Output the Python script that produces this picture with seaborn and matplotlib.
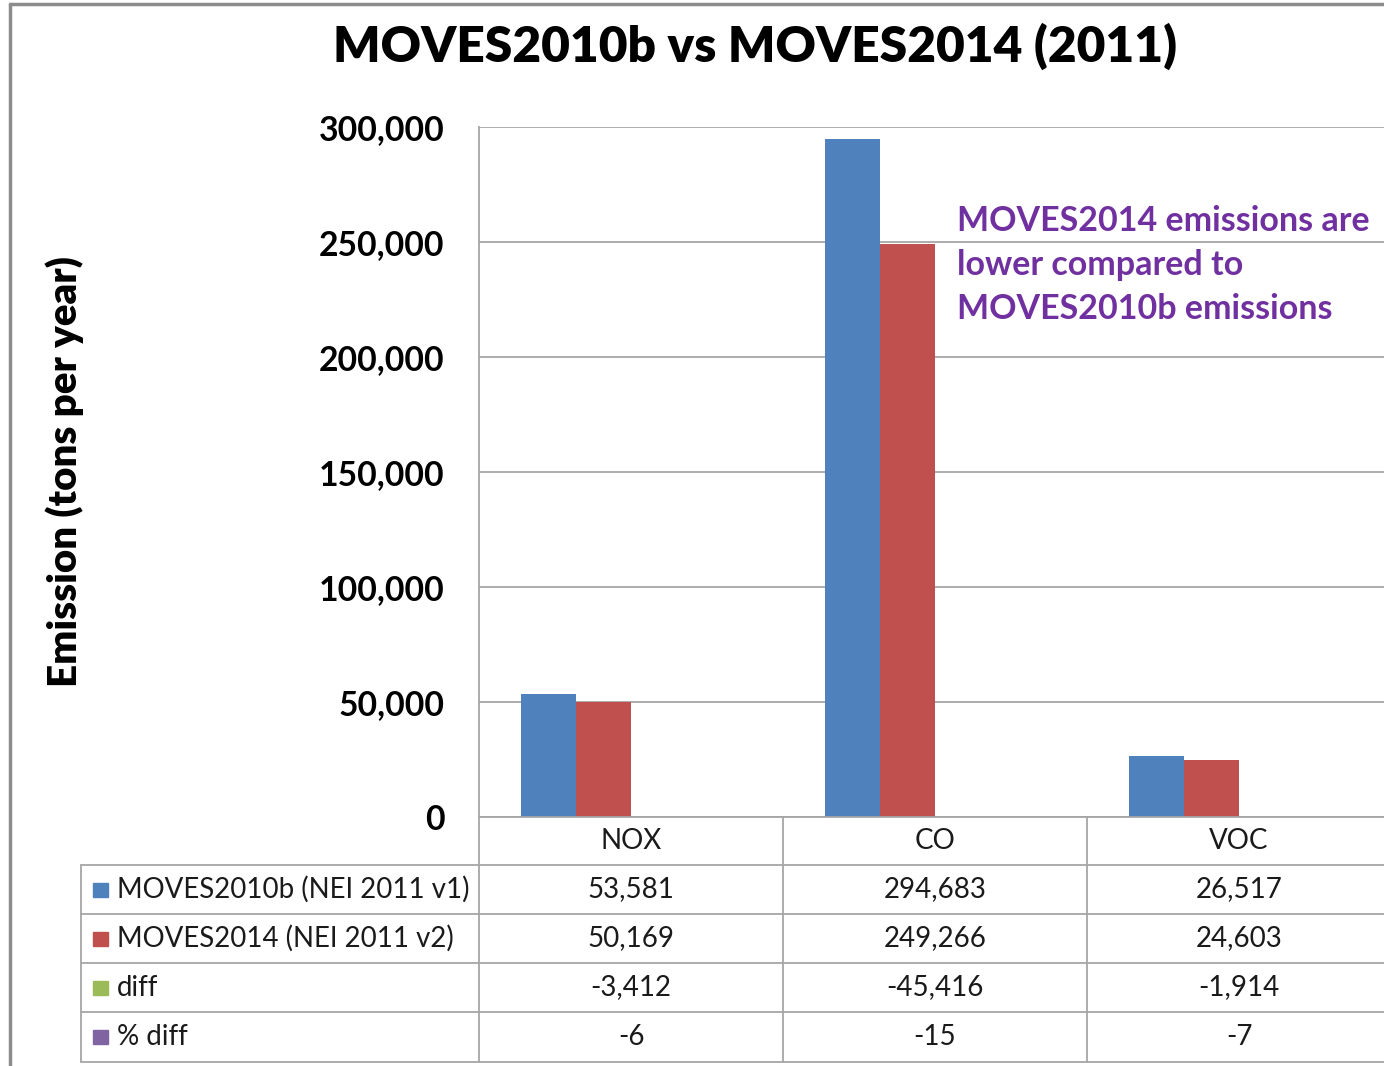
import numpy as np
import pandas as pd
import matplotlib
matplotlib.use("Agg")
import matplotlib.pyplot as plt
import matplotlib.transforms as mtransforms
from matplotlib.patches import Rectangle
import seaborn as sns

pollutants = ["NOX", "CO", "VOC"]
series = ["MOVES2010b (NEI 2011 v1)", "MOVES2014 (NEI 2011 v2)", "diff", "% diff"]
moves2010b = [53581, 294683, 26517]
moves2014 = [50169, 249266, 24603]
diff = [-3412, -45416, -1914]
pct_diff = [-6, -15, -7]
colors = ["#4F81BD", "#C0504D", "#9BBB59", "#8064A2"]

rows = [moves2010b, moves2014, diff, pct_diff]
df = pd.DataFrame({
    "pollutant": np.tile(pollutants, len(series)),
    "series": np.repeat(series, len(pollutants)),
    "value": np.concatenate(rows),
})

sns.set_style("white")
plt.rcParams["font.family"] = ["Lato", "DejaVu Sans"]

W, H = 1384, 1066
fig = plt.figure(figsize=(W / 100, H / 100), dpi=100)

def fx(px):
    return px / W

def fy(py):
    return 1 - py / H

# plot area (extends past right edge like the cropped original)
ax = fig.add_axes([fx(479), fy(817), fx(1391) - fx(479), fy(127) - fy(817)])
sns.barplot(data=df, x="pollutant", y="value", hue="series", order=pollutants,
            hue_order=series, palette=colors, width=0.724, saturation=1,
            linewidth=0, legend=False, ax=ax)
ax.set_ylim(0, 300000)
ax.set_xlim(-0.5, 2.5)
ax.set_yticks(np.arange(0, 300001, 50000))
ax.set_yticklabels([f"{v:,}" for v in range(0, 300001, 50000)],
                   fontsize=24.3, fontweight="bold", color="black")
ax.tick_params(axis="y", length=0, pad=25)
ax.set_xticks([])
ax.set_xlabel("")
ax.set_ylabel("")
ax.yaxis.grid(True, color="#a6a6a6", linewidth=1.3)
ax.set_axisbelow(True)
for s in ["top", "right"]:
    ax.spines[s].set_visible(False)
for s in ["left", "bottom"]:
    ax.spines[s].set_color("#a6a6a6")
    ax.spines[s].set_linewidth(1.3)

# title and y label
fig.text(fx(755), fy(46), "MOVES2010b vs MOVES2014 (2011)", ha="center",
         va="center", fontsize=35.7, fontweight="heavy", color="black")
fig.text(fx(65), fy(472), "Emission (tons per year)", ha="center", va="center",
         rotation=90, fontsize=29, fontweight="heavy", color="black")

ax.text(fx(957), fy(265), "MOVES2014 emissions are\nlower compared to\nMOVES2010b emissions",
        transform=fig.transFigure, ha="left", va="center", fontsize=24.5,
        fontweight="bold", color="#7030A0", linespacing=1.47)

# data table below the plot
lc = "#a6a6a6"
tc = "#1a1a1a"
row_y = [817, 865, 914, 963, 1012, 1062]
col_x = [479, 783, 1087, 1391]
for y in row_y[1:]:
    fig.add_artist(plt.Line2D([fx(81), fx(1391)], [fy(y), fy(y)], color=lc, lw=1.3))
fig.add_artist(plt.Line2D([fx(81), fx(81)], [fy(865), fy(1062)], color=lc, lw=1.3))
for x in col_x:
    fig.add_artist(plt.Line2D([fx(x), fx(x)], [fy(817), fy(1062)], color=lc, lw=1.3))

trans = mtransforms.blended_transform_factory(ax.transData, fig.transFigure)
for i, p in enumerate(pollutants):
    ax.text(i, fy(841), p, transform=trans, ha="center", va="center",
            fontsize=20, color=tc, clip_on=False)

for r, (name, vals, c) in enumerate(zip(series, rows, colors)):
    yc = (row_y[r + 1] + row_y[r + 2]) / 2
    fig.add_artist(Rectangle((fx(93), fy(yc + 7)), fx(15), fy(yc - 7) - fy(yc + 7),
                             color=c, transform=fig.transFigure))
    fig.text(fx(117), fy(yc), name, ha="left", va="center", fontsize=19.9,
             color=tc)
    for i, v in enumerate(vals):
        ax.text(i, fy(yc), f"{v:,}", transform=trans, ha="center", va="center",
                fontsize=20, color=tc, clip_on=False)

# outer chart frame
fig.add_artist(plt.Line2D([fx(10), fx(10)], [fy(4), 0], color="#8c8c8c", lw=2.5))
fig.add_artist(plt.Line2D([fx(10), 1], [fy(4), fy(4)], color="#8c8c8c", lw=2.5))

fig.savefig("out.png", dpi=100)
